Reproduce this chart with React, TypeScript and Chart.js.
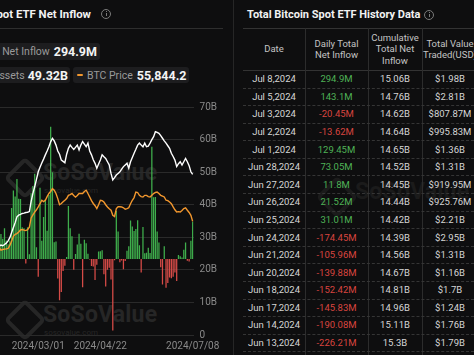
import React, { useEffect, useRef } from 'react';
import { Chart, registerables } from 'chart.js';

Chart.register(...registerables);

// ---------- chart data ----------
const dates = [
  '2024/01/11','2024/01/12','2024/01/16','2024/01/17','2024/01/18','2024/01/19','2024/01/22','2024/01/23','2024/01/24','2024/01/25',
  '2024/01/26','2024/01/29','2024/01/30','2024/01/31','2024/02/01','2024/02/02','2024/02/05','2024/02/06','2024/02/07','2024/02/08',
  '2024/02/09','2024/02/12','2024/02/13','2024/02/14','2024/02/15','2024/02/16','2024/02/20','2024/02/21','2024/02/22','2024/02/23',
  '2024/02/26','2024/02/27','2024/02/28','2024/02/29','2024/03/01','2024/03/04','2024/03/05','2024/03/06','2024/03/07','2024/03/08',
  '2024/03/11','2024/03/12','2024/03/13','2024/03/14','2024/03/15','2024/03/18','2024/03/19','2024/03/20','2024/03/21','2024/03/22',
  '2024/03/25','2024/03/26','2024/03/27','2024/03/28','2024/04/01','2024/04/02','2024/04/03','2024/04/04','2024/04/05','2024/04/08',
  '2024/04/09','2024/04/10','2024/04/11','2024/04/12','2024/04/15','2024/04/16','2024/04/17','2024/04/18','2024/04/19','2024/04/22',
  '2024/04/23','2024/04/24','2024/04/25','2024/04/26','2024/04/29','2024/04/30','2024/05/01','2024/05/02','2024/05/03','2024/05/06',
  '2024/05/07','2024/05/08','2024/05/09','2024/05/10','2024/05/13','2024/05/14','2024/05/15','2024/05/16','2024/05/17','2024/05/20',
  '2024/05/21','2024/05/22','2024/05/23','2024/05/24','2024/05/28','2024/05/29','2024/05/30','2024/05/31','2024/06/03','2024/06/04',
  '2024/06/05','2024/06/06','2024/06/07','2024/06/10','2024/06/11','2024/06/12','2024/06/13','2024/06/14','2024/06/17','2024/06/18',
  '2024/06/20','2024/06/21','2024/06/24','2024/06/25','2024/06/26','2024/06/27','2024/06/28','2024/07/01','2024/07/02','2024/07/03',
  '2024/07/05','2024/07/08',
];

// Daily total net inflow, million USD
const netInflowM = [
  655.5, 203.1, 50.7, 52.7, 1.5, -40.0, -76.2, -143.0, -158.1, -52.9,
  65.1, 255.5, 247.1, 197.0, 159.5, 241.9, 145.4, 115.6, 146.6, 403.4,
  541.5, 493.5, 631.3, 475.6, 474.1, 251.2, 242.0, -35.6, 251.6, 37.9,
  519.7, 576.7, 673.4, 92.2, -140.0, 562.1, 143.3, 332.5, 472.6, 223.6,
  505.0, 1045.0, 684.2, 132.5, 139.0, -154.3, -326.2, -261.5, -94.0, -53.7,
  15.4, 418.0, 243.5, 179.0, -85.7, 40.3, 113.5, 200.0, 120.0, -223.8,
  151.6, 123.9, 41.9, -4.3, -55.5, -58.9, -165.4, -45.0, 59.7, 62.0,
  70.0, -120.6, -217.9, -84.4, -70.0, -161.6, -563.7, -10.0, 378.3, 217.0,
  -25.0, -11.3, -80.0, -15.0, 66.0, 100.5, 303.0, 257.3, 222.0, 237.2,
  305.7, 107.9, -107.3, 252.1, 45.0, 48.7, 88.0, 48.0, 886.7, 488.1,
  488.7, 217.7, 131.0, -64.9, -200.5, 100.8, -226.21, -190.08, -145.83, -152.42,
  -139.88, -105.96, -174.45, 31.01, 21.52, 11.8, 73.05, 129.45, -13.62, -20.45,
  143.1, 294.9,
];

// Total net assets, billion USD
const totalNetAssetsB = [
  27.8, 27.0, 26.3, 25.7, 25.5, 25.3, 24.0, 23.6, 24.1, 24.2,
  25.5, 26.8, 27.3, 27.6, 27.4, 27.8, 28.2, 28.9, 29.9, 31.5,
  33.0, 34.5, 36.3, 36.8, 37.0, 37.3, 37.4, 37.6, 37.7, 37.9,
  41.0, 43.5, 45.5, 47.8, 50.1, 51.5, 52.8, 54.0, 55.3, 56.5,
  57.8, 59.3, 60.4, 59.6, 58.3, 56.5, 55.5, 53.7, 53.3, 52.9,
  55.5, 57.3, 58.3, 57.6, 57.0, 57.6, 58.3, 56.8, 58.3, 59.4,
  58.6, 57.8, 58.9, 56.5, 55.3, 53.8, 52.7, 51.2, 52.5, 53.7,
  55.3, 54.7, 54.2, 53.2, 52.2, 49.6, 47.6, 48.3, 49.1, 49.6,
  50.1, 50.9, 51.7, 52.2, 52.7, 51.2, 53.2, 54.5, 55.8, 57.0,
  58.3, 58.9, 58.3, 57.8, 58.9, 57.8, 58.0, 58.9, 60.0, 60.9,
  62.4, 62.2, 61.9, 61.2, 60.4, 59.6, 58.9, 58.1, 57.3, 55.8,
  54.8, 53.7, 51.7, 52.6, 53.2, 52.2, 53.2, 54.2, 53.2, 52.0,
  50.1, 49.32,
];

// BTC price, thousand USD
const btcPriceK = [
  46.3, 42.8, 43.1, 42.7, 41.2, 41.6, 39.5, 39.9, 40.1, 40.0,
  41.8, 42.3, 43.0, 41.7, 42.0, 42.2, 42.3, 42.5, 44.0, 46.0,
  48.5, 49.5, 49.8, 50.6, 51.6, 51.8, 51.5, 51.3, 51.7, 53.0,
  57.5, 59.0, 60.4, 61.5, 62.9, 64.5, 66.2, 65.5, 66.2, 68.0,
  69.5, 70.5, 71.9, 71.1, 69.5, 67.0, 64.0, 64.6, 65.5, 66.2,
  67.0, 68.6, 69.0, 69.5, 68.5, 67.8, 68.5, 69.5, 69.5, 69.5,
  70.5, 71.1, 69.5, 67.8, 66.0, 64.6, 63.5, 62.1, 64.0, 66.2,
  66.0, 65.3, 64.0, 62.9, 62.0, 61.3, 58.8, 58.2, 62.1, 63.0,
  63.0, 62.9, 62.5, 61.8, 62.1, 62.5, 64.5, 66.2, 67.5, 70.2,
  70.0, 68.6, 68.0, 67.8, 68.6, 68.6, 68.0, 67.8, 68.6, 69.5,
  70.0, 70.2, 69.5, 68.6, 68.2, 67.8, 66.2, 66.0, 65.3, 64.5,
  62.9, 61.5, 60.4, 60.6, 60.4, 61.2, 62.1, 62.5, 61.3, 60.2,
  58.8, 55.84,
];

const xTickLabels = ['2024/03/01', '2024/04/22', '2024/07/08'];

// ---------- legend / header texts ----------
const leftTitle = 'Total Bitcoin Spot ETF Net Inflow';
const legendInflowLabel = 'Daily Total Net Inflow';
const legendInflowValue = '294.9M';
const legendAssetsLabel = 'Total Net Assets';
const legendAssetsValue = '49.32B';
const legendPriceLabel = 'BTC Price';
const legendPriceValue = '55,844.2';

// ---------- table data ----------
const tableTitle = 'Total Bitcoin Spot ETF History Data';
const tableHeaders = [
  ['Date'],
  ['Daily Total', 'Net Inflow'],
  ['Cumulative', 'Total Net', 'Inflow'],
  ['Total Value', 'Traded(USD)'],
];
const tableDates = [
  'Jul 8,2024', 'Jul 5,2024', 'Jul 3,2024', 'Jul 2,2024', 'Jul 1,2024', 'Jun 28,2024', 'Jun 27,2024', 'Jun 26,2024',
  'Jun 25,2024', 'Jun 24,2024', 'Jun 21,2024', 'Jun 20,2024', 'Jun 18,2024', 'Jun 17,2024', 'Jun 14,2024', 'Jun 13,2024',
];
const tableDaily = [
  '294.9M', '143.1M', '-20.45M', '-13.62M', '129.45M', '73.05M', '11.8M', '21.52M',
  '31.01M', '-174.45M', '-105.96M', '-139.88M', '-152.42M', '-145.83M', '-190.08M', '-226.21M',
];
const tableCumulative = [
  '15.06B', '14.76B', '14.62B', '14.64B', '14.65B', '14.52B', '14.45B', '14.44B',
  '14.42B', '14.39B', '14.56B', '14.67B', '14.81B', '14.96B', '15.11B', '15.3B',
];
const tableTraded = [
  '$1.98B', '$2.81B', '$807.87M', '$995.83M', '$1.36B', '$1.31B', '$919.95M', '$925.76M',
  '$2.21B', '$2.95B', '$1.31B', '$1.16B', '$1.7B', '$1.24B', '$1.76B', '$1.79B',
];

// ---------- styles ----------
const BG = '#0e0e0f';
const FONT = 'Roboto, "Noto Sans", sans-serif';
const GREEN = '#3fae4c';
const RED = '#d64b47';
const ORANGE = '#f2972e';
const GRID = '#2a2a2a';
const TICK = '#8a8a8a';
const CHIP = '#1d1d1f';
const TXT_GREEN = '#4fb356';
const TXT_RED = '#d9453f';

const W = 474;

function InfoIcon({ left, top }: { left: number; top: number }) {
  return (
    <div style={{ position: 'absolute', left, top, width: 8, height: 8, borderRadius: '50%', border: '1px solid #7a7a7a' }}>
      <div style={{ position: 'absolute', left: 3.5, top: 3, width: 1, height: 3, background: '#7a7a7a' }} />
      <div style={{ position: 'absolute', left: 3.5, top: 1.4, width: 1, height: 1, background: '#7a7a7a' }} />
    </div>
  );
}

function Watermark({ left, top, color, sub }: { left: number; top: number; color: string; sub: boolean }) {
  return (
    <div style={{ position: 'absolute', left, top, width: 160, height: 34 }}>
      <div style={{ position: 'absolute', left: 4, top: 2, width: 22, height: 22, border: `4px solid ${color}`, borderRadius: 5, transform: 'rotate(45deg)' }} />
      <div style={{ position: 'absolute', left: 37, top: -2, fontSize: 23, fontWeight: 700, color, letterSpacing: 0.2, whiteSpace: 'nowrap' }}>SoSoValue</div>
      {sub && <div style={{ position: 'absolute', left: 38, top: 25, fontSize: 8, color, whiteSpace: 'nowrap' }}>sosovalue.com</div>}
    </div>
  );
}

export default function App() {
  const ref = useRef<HTMLCanvasElement | null>(null);

  useEffect(() => {
    document.body.style.margin = '0';
    if (!ref.current) return;
    const chart = new Chart(ref.current, {
      type: 'bar',
      data: {
        labels: dates,
        datasets: [
          {
            type: 'line',
            data: totalNetAssetsB,
            borderColor: '#ffffff',
            borderWidth: 1.4,
            pointRadius: 0,
            tension: 0,
            yAxisID: 'yAssets',
            order: 1,
          } as any,
          {
            type: 'line',
            data: btcPriceK,
            borderColor: ORANGE,
            borderWidth: 1.4,
            pointRadius: 0,
            tension: 0,
            yAxisID: 'yPrice',
            order: 2,
          } as any,
          {
            type: 'bar',
            data: netInflowM,
            backgroundColor: netInflowM.map((v) => (v >= 0 ? GREEN : RED)),
            borderWidth: 0,
            barPercentage: 0.9,
            categoryPercentage: 0.8,
            yAxisID: 'yFlow',
            order: 3,
          } as any,
        ],
      },
      options: {
        animation: false,
        responsive: false,
        maintainAspectRatio: false,
        layout: { padding: { top: 8, left: 0, right: 0, bottom: 0 } },
        plugins: { legend: { display: false }, tooltip: { enabled: false } },
        scales: {
          x: {
            type: 'category',
            offset: true,
            grid: { display: false, drawTicks: false },
            border: { display: false },
            ticks: {
              autoSkip: false,
              maxRotation: 0,
              minRotation: 0,
              padding: 5,
              color: TICK,
              font: { family: FONT, size: 10 },
              callback: (_v: any, i: number) => (xTickLabels.includes(dates[i]) ? dates[i] : ''),
            },
            afterFit: (s: any) => {
              s.height = 20;
              s.paddingLeft = 0;
              s.paddingRight = 0;
            },
          },
          yFlow: { type: 'linear', position: 'left', display: false, min: -600, max: 1200 },
          yPrice: { type: 'linear', position: 'left', display: false, min: 0, max: 112 },
          yAssets: {
            type: 'linear',
            position: 'right',
            min: 0,
            max: 70,
            grid: { color: GRID, drawTicks: false, lineWidth: 1 },
            border: { display: false },
            ticks: {
              stepSize: 10,
              padding: 6,
              color: TICK,
              font: { family: FONT, size: 10 },
              callback: (v: any) => (Number(v) === 0 ? '0' : `${v}B`),
            },
            afterFit: (s: any) => {
              s.width = 39.45;
              s.paddingTop = 0;
              s.paddingBottom = 0;
            },
          },
        },
      } as any,
    });
    return () => chart.destroy();
  }, []);

  const colB = [243, 305, 368, 422, 478];
  const rowH = 17.58;
  const headTop = 28;
  const headBottom = 70;

  return (
    <div style={{ position: 'fixed', left: 0, top: 0, width: W, height: 355, overflow: 'hidden', background: BG, fontFamily: FONT }}>
      {/* ---------- left panel ---------- */}
      <div style={{ position: 'absolute', right: W - 91, top: 7, fontSize: 11.4, fontWeight: 700, color: '#f2f2f2', whiteSpace: 'nowrap', lineHeight: '14px' }}>{leftTitle}</div>
      <InfoIcon left={101} top={9} />
      <div style={{ position: 'absolute', left: 0, top: 28, width: 223, height: 1, background: '#2e2e2e' }} />

      <div style={{ position: 'absolute', right: W - 100, top: 43, height: 17, background: CHIP, borderRadius: 3, display: 'flex', alignItems: 'center', padding: '0 3px 0 6px', whiteSpace: 'nowrap' }}>
        <span style={{ fontSize: 10.5, color: '#9a9a9a' }}>{legendInflowLabel}</span>
        <span style={{ fontSize: 12.5, fontWeight: 700, color: '#f4f4f4', marginLeft: 4 }}>{legendInflowValue}</span>
      </div>
      <div style={{ position: 'absolute', right: W - 70, top: 67, height: 16, background: CHIP, borderRadius: 3, display: 'flex', alignItems: 'center', padding: '0 2px 0 6px', whiteSpace: 'nowrap' }}>
        <span style={{ fontSize: 10.5, color: '#9a9a9a' }}>{legendAssetsLabel}</span>
        <span style={{ fontSize: 12.5, fontWeight: 700, color: '#f4f4f4', marginLeft: 3 }}>{legendAssetsValue}</span>
      </div>
      <div style={{ position: 'absolute', left: 73, top: 67, height: 16, background: CHIP, borderRadius: 3, display: 'flex', alignItems: 'center', padding: '0 2px 0 4px', whiteSpace: 'nowrap' }}>
        <span style={{ display: 'inline-block', width: 6, height: 2.5, background: ORANGE, borderRadius: 1 }} />
        <span style={{ fontSize: 10.5, color: '#9a9a9a', marginLeft: 4 }}>{legendPriceLabel}</span>
        <span style={{ fontSize: 12.5, fontWeight: 700, color: '#f4f4f4', marginLeft: 4 }}>{legendPriceValue}</span>
      </div>

      <Watermark left={6} top={161} color="#262626" sub={true} />
      <Watermark left={6} top={303} color="#262626" sub={true} />

      <div style={{ position: 'absolute', left: -23, top: 99, width: 256, height: 256 }}>
        <canvas ref={ref} width={256} height={256} style={{ display: 'block', width: 256, height: 256 }} />
      </div>

      <div style={{ position: 'absolute', left: 233, top: 0, width: 1, height: 355, background: '#262626' }} />

      {/* ---------- right panel ---------- */}
      <Watermark left={318} top={180} color="#1b1b1b" sub={false} />
      <div style={{ position: 'absolute', left: 247, top: 8, fontSize: 11, fontWeight: 700, color: '#f2f2f2', whiteSpace: 'nowrap', lineHeight: '14px' }}>{tableTitle}</div>
      <InfoIcon left={424} top={10} />

      <div style={{ position: 'absolute', left: colB[0], top: headTop, width: W - colB[0], height: 1, background: '#333' }} />
      <div style={{ position: 'absolute', left: colB[0], top: headBottom, width: W - colB[0], height: 1, background: '#333' }} />
      {[1, 2, 3].map((c) => (
        <div key={c} style={{ position: 'absolute', left: colB[c], top: headTop, width: 1, height: 355 - headTop, background: '#2c2c2c' }} />
      ))}
      {tableHeaders.map((lines, c) => (
        <div key={c} style={{ position: 'absolute', left: colB[c], top: headTop, width: colB[c + 1] - colB[c], height: headBottom - headTop, display: 'flex', flexDirection: 'column', alignItems: 'center', justifyContent: 'center', fontSize: 9.5, lineHeight: '11.5px', color: '#c4c4c4', whiteSpace: 'nowrap' }}>
          {lines.map((l, k) => <div key={k}>{l}</div>)}
        </div>
      ))}
      {tableDates.map((d, r) => {
        const top = headBottom + r * rowH;
        const daily = tableDaily[r];
        const cells = [d, daily, tableCumulative[r], tableTraded[r]];
        return (
          <React.Fragment key={r}>
            <div style={{ position: 'absolute', left: colB[0], top: top + rowH, width: W - colB[0], height: 0, borderTop: '1px dashed #353535' }} />
            {cells.map((t, c) => (
              <div key={c} style={{ position: 'absolute', left: colB[c], top, width: colB[c + 1] - colB[c], height: rowH, display: 'flex', alignItems: 'center', justifyContent: 'center', fontSize: 9.5, color: c === 1 ? (daily.startsWith('-') ? TXT_RED : TXT_GREEN) : '#d6d6d6', whiteSpace: 'nowrap' }}>{t}</div>
            ))}
          </React.Fragment>
        );
      })}
    </div>
  );
}
